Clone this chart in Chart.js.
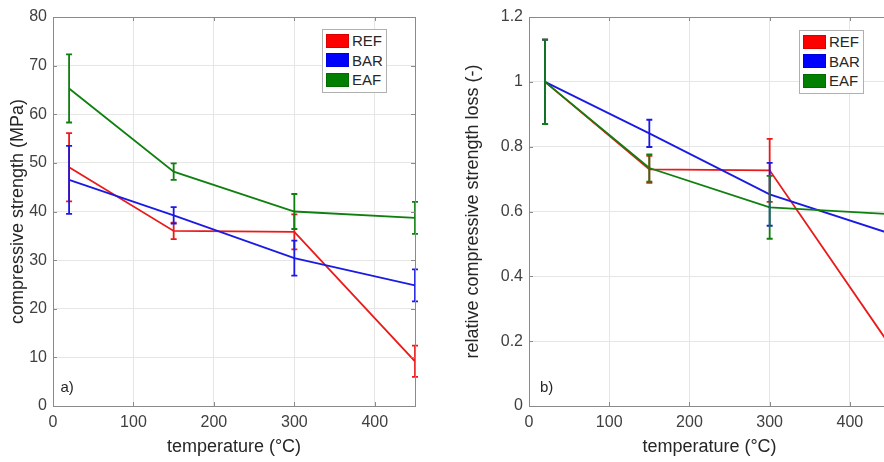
<!DOCTYPE html>
<html>
<head>
<meta charset="utf-8">
<title>compressive strength vs temperature</title>
<script src="https://cdn.jsdelivr.net/npm/chart.js@4.4.1/dist/chart.umd.min.js"></script>
<style>
  html, body { margin: 0; padding: 0; background: #fff; overflow: hidden; }
  body { width: 884px; height: 462px; position: relative; font-family: 'Liberation Sans', Arial, sans-serif; }
  .panel { position: absolute; top: 0; height: 462px; }
  .panel canvas { display: block; }
  .legend {
    position: absolute; box-sizing: border-box; width: 65px; height: 64px;
    border: 1px solid #b0b0b0; background: #fff; padding: 1px 0 0 3px;
    font-size: 15px; color: #262626;
  }
  .legend-row { display: flex; align-items: center; height: 19.5px; }
  .swatch { width: 23px; height: 14px; margin-right: 3px; box-sizing: border-box; border: 1px solid rgba(0,0,0,0.15); }
</style>
</head>
<body>
  <div class="panel" style="left:0;width:442px">
    <canvas id="chartA" width="442" height="462"></canvas>
    <div class="legend" id="legendA" style="left:322px;top:29px"></div>
  </div>
  <div class="panel" style="left:442px;width:470px">
    <canvas id="chartB" width="470" height="462"></canvas>
    <div class="legend" id="legendB" style="left:357px;top:30px"></div>
  </div>

<script>
// ---------- data ----------
const temperatures = [20, 150, 300, 450];
const seriesNames = ['REF', 'BAR', 'EAF'];
const seriesColors = ['#ea1a1a', '#1a1ae4', '#0f7f0f'];
const swatchColors = ['#ff0000', '#0000ff', '#007f00'];

const xTicks = [0, 100, 200, 300, 400];
const strengthTicks = [0, 10, 20, 30, 40, 50, 60, 70, 80];
const relativeTicks = [0, 0.2, 0.4, 0.6, 0.8, 1, 1.2];

// a) compressive strength (MPa)
const strengthREF = [49.1, 36.0, 35.8, 9.2];
const strengthBAR = [46.5, 39.2, 30.4, 24.8];
const strengthEAF = [65.3, 48.2, 40.0, 38.7];
const strengthErrREF = [7.0, 1.7, 3.6, 3.2];
const strengthErrBAR = [7.0, 1.7, 3.6, 3.3];
const strengthErrEAF = [7.0, 1.7, 3.6, 3.3];

// b) relative compressive strength loss (-)
const relativeREF = [1, 0.730, 0.727, 0.187];
const relativeBAR = [1, 0.841, 0.653, 0.532];
const relativeEAF = [1, 0.734, 0.613, 0.592];
const relativeErrREF = [0.13, 0.042, 0.097, 0.065];
const relativeErrBAR = [0.13, 0.042, 0.097, 0.07];
const relativeErrEAF = [0.13, 0.042, 0.097, 0.05];

// ---------- plugins ----------
// 误差线
const errorBarPlugin = {
  id: 'errorBars',
  afterDatasetsDraw(chart) {
    const { ctx, chartArea, scales: { x, y } } = chart;
    ctx.save();
    ctx.beginPath();
    ctx.rect(chartArea.left - 4, chartArea.top, chartArea.width + 8, chartArea.height);
    ctx.clip();
    chart.data.datasets.forEach(ds => {
      ctx.strokeStyle = ds.borderColor;
      ctx.lineWidth = 1.8;
      ds.data.forEach((p, j) => {
        const e = ds.errors[j];
        const px = x.getPixelForValue(p.x);
        const top = y.getPixelForValue(p.y + e);
        const bot = y.getPixelForValue(p.y - e);
        ctx.beginPath();
        ctx.moveTo(px, top); ctx.lineTo(px, bot);
        ctx.moveTo(px - 3, top); ctx.lineTo(px + 3, top);
        ctx.moveTo(px - 3, bot); ctx.lineTo(px + 3, bot);
        ctx.stroke();
      });
    });
    ctx.restore();
  }
};

// 坐标框 + 内向刻度 + 面板标签
const framePlugin = {
  id: 'frame',
  afterDraw(chart, args, opts) {
    const { ctx, chartArea: a, scales: { x, y } } = chart;
    ctx.save();
    ctx.strokeStyle = '#8a8a8a';
    ctx.lineWidth = 1;
    ctx.strokeRect(Math.round(a.left) + 0.5, Math.round(a.top) + 0.5,
      Math.round(a.width), Math.round(a.height));
    ctx.beginPath();
    x.ticks.forEach(t => {
      const px = Math.round(x.getPixelForValue(t.value)) + 0.5;
      ctx.moveTo(px, a.bottom); ctx.lineTo(px, a.bottom - 4);
      ctx.moveTo(px, a.top); ctx.lineTo(px, a.top + 4);
    });
    y.ticks.forEach(t => {
      const py = Math.round(y.getPixelForValue(t.value)) + 0.5;
      ctx.moveTo(a.left, py); ctx.lineTo(a.left + 4, py);
      ctx.moveTo(a.right, py); ctx.lineTo(a.right - 4, py);
    });
    ctx.stroke();
    ctx.fillStyle = '#262626';
    ctx.font = "15px 'Liberation Sans', Arial, sans-serif";
    ctx.textBaseline = 'middle';
    ctx.fillText(opts.label, a.left + opts.dx, a.bottom - 18);
    ctx.restore();
  }
};

// ---------- charts ----------
function makeDatasets(values, errors) {
  return seriesNames.map((name, i) => ({
    label: name,
    data: temperatures.map((t, j) => ({ x: t, y: values[i][j] })),
    errors: errors[i],
    borderColor: seriesColors[i],
    backgroundColor: seriesColors[i],
    borderWidth: 1.8,
    pointRadius: 0,
    tension: 0,
    order: seriesNames.length - i,
  }));
}

function makeChart(canvasId, datasets, opt) {
  const tickFont = { family: "'Liberation Sans', Arial, sans-serif", size: 16 };
  const titleFont = { family: "'Liberation Sans', Arial, sans-serif", size: 18 };
  return new Chart(document.getElementById(canvasId), {
    type: 'line',
    data: { datasets },
    options: {
      responsive: false,
      animation: false,
      layout: { padding: { top: 17, right: opt.padRight, left: 0, bottom: 0 } },
      plugins: {
        legend: { display: false },
        tooltip: { enabled: false },
        frame: { label: opt.label, dx: opt.labelDx },
      },
      scales: {
        x: {
          type: 'linear',
          min: 0,
          max: 450,
          afterBuildTicks: s => { s.ticks = xTicks.map(v => ({ value: v })); },
          afterFit: s => { s.height = 56; },
          grid: { color: '#e6e6e6', drawTicks: false },
          border: { display: false },
          ticks: { color: '#404040', font: tickFont, padding: 7, maxRotation: 0 },
          title: { display: true, text: 'temperature (°C)', color: '#262626', font: titleFont, padding: { top: 0, bottom: 4 } },
        },
        y: {
          type: 'linear',
          min: opt.yMin,
          max: opt.yMax,
          afterBuildTicks: s => { s.ticks = opt.yTicks.map(v => ({ value: v })); },
          afterFit: s => { s.width = opt.yWidth; },
          grid: { color: '#e6e6e6', drawTicks: false },
          border: { display: false },
          ticks: { color: '#404040', font: tickFont, padding: 6, callback: v => String(v) },
          title: { display: true, text: opt.yTitle, color: '#262626', font: titleFont, padding: { top: opt.yTitlePad, bottom: 0 } },
        },
      },
    },
    plugins: [errorBarPlugin, framePlugin],
  });
}

function buildLegend(id) {
  document.getElementById(id).innerHTML = seriesNames.map((name, i) =>
    `<div class="legend-row"><div class="swatch" style="background:${swatchColors[i]}"></div>${name}</div>`
  ).join('');
}

makeChart('chartA',
  makeDatasets([strengthREF, strengthBAR, strengthEAF], [strengthErrREF, strengthErrBAR, strengthErrEAF]),
  { padRight: 27, yWidth: 53, yMin: 0, yMax: 80, yTicks: strengthTicks,
    yTitle: 'compressive strength (MPa)', yTitlePad: 7, label: 'a)', labelDx: 7.5 });

makeChart('chartB',
  makeDatasets([relativeREF, relativeBAR, relativeEAF], [relativeErrREF, relativeErrBAR, relativeErrEAF]),
  { padRight: 22, yWidth: 87, yMin: 0, yMax: 1.2, yTicks: relativeTicks,
    yTitle: 'relative compressive strength loss (-)', yTitlePad: 20, label: 'b)', labelDx: 11 });

buildLegend('legendA');
buildLegend('legendB');
</script>
</body>
</html>
